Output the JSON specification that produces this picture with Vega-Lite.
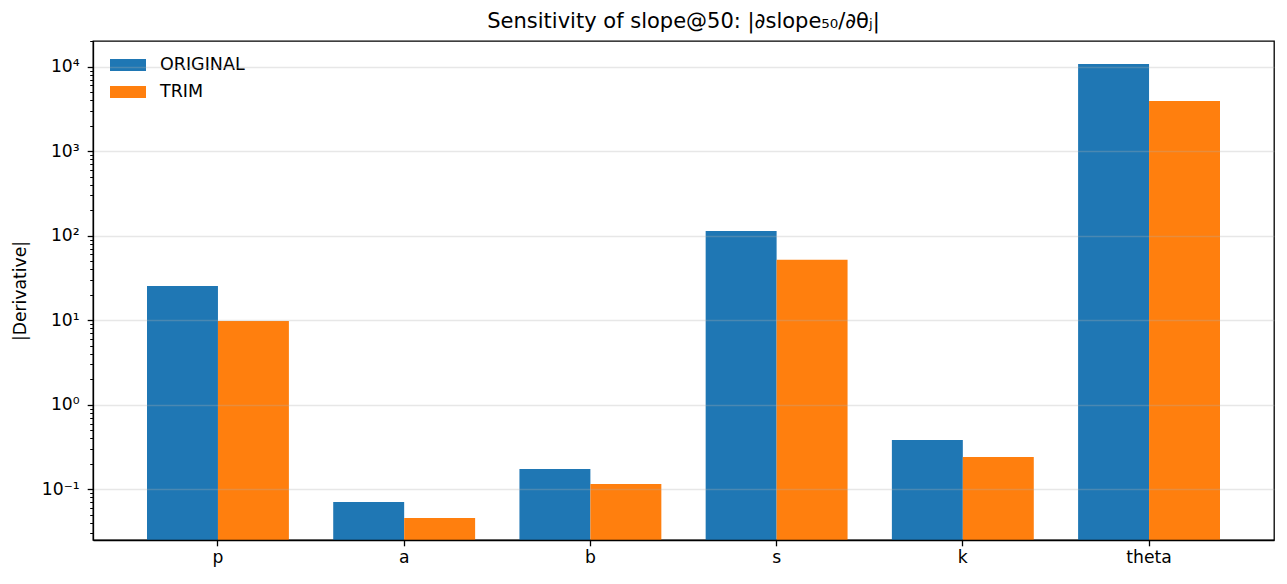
{
  "$schema": "https://vega.github.io/schema/vega-lite/v6.json",
  "autosize": "none",
  "width": 1181,
  "height": 499,
  "padding": {"left": 93, "top": 41, "right": 13, "bottom": 44},
  "background": "white",
  "config": {
    "font": "DejaVu Sans",
    "view": {"stroke": "black", "strokeWidth": 1.3},
    "axis": {
      "labelFont": "DejaVu Sans",
      "titleFont": "DejaVu Sans",
      "labelFontSize": 17.2,
      "titleFontSize": 17.2,
      "titleFontWeight": "normal",
      "labelColor": "black",
      "titleColor": "black",
      "tickColor": "black",
      "domainColor": "black",
      "domainWidth": 1.3
    }
  },
  "title": {
    "text": "Sensitivity of slope@50: |∂slope₅₀/∂θⱼ|",
    "font": "DejaVu Sans",
    "fontSize": 21,
    "fontWeight": "normal",
    "color": "black",
    "offset": 9
  },
  "data": {
    "values": [
      {"param": "p", "model": "ORIGINAL", "value": 25.5},
      {"param": "p", "model": "TRIM", "value": 9.8},
      {"param": "a", "model": "ORIGINAL", "value": 0.0708},
      {"param": "a", "model": "TRIM", "value": 0.0457},
      {"param": "b", "model": "ORIGINAL", "value": 0.174},
      {"param": "b", "model": "TRIM", "value": 0.1156},
      {"param": "s", "model": "ORIGINAL", "value": 114},
      {"param": "s", "model": "TRIM", "value": 51.8},
      {"param": "k", "model": "ORIGINAL", "value": 0.383},
      {"param": "k", "model": "TRIM", "value": 0.241},
      {"param": "theta", "model": "ORIGINAL", "value": 10760},
      {"param": "theta", "model": "TRIM", "value": 3925}
    ]
  },
  "mark": {"type": "bar", "clip": true},
  "encoding": {
    "x": {
      "field": "param",
      "type": "nominal",
      "sort": ["p", "a", "b", "s", "k", "theta"],
      "scale": {"paddingInner": 0.238, "paddingOuter": 0.29},
      "axis": {
        "title": null,
        "labelAngle": 0,
        "tickSize": 5.8,
        "tickWidth": 1.3,
        "labelPadding": 3,
        "zindex": 1
      }
    },
    "xOffset": {
      "field": "model",
      "type": "nominal",
      "sort": ["ORIGINAL", "TRIM"]
    },
    "y": {
      "field": "value",
      "type": "quantitative",
      "scale": {"type": "log", "domain": [0.0251, 20140], "nice": false},
      "axis": {
        "title": "|Derivative|",
        "titlePadding": 12,
        "values": [0.03, 0.04, 0.05, 0.06, 0.07, 0.08, 0.09, 0.1, 0.2, 0.3, 0.4, 0.5, 0.6, 0.7, 0.8, 0.9, 1, 2, 3, 4, 5, 6, 7, 8, 9, 10, 20, 30, 40, 50, 60, 70, 80, 90, 100, 200, 300, 400, 500, 600, 700, 800, 900, 1000, 2000, 3000, 4000, 5000, 6000, 7000, 8000, 9000, 10000, 20000],
        "labelExpr": "datum.value == 0.1 ? '10⁻¹' : datum.value == 1 ? '10⁰' : datum.value == 10 ? '10¹' : datum.value == 100 ? '10²' : datum.value == 1000 ? '10³' : datum.value == 10000 ? '10⁴' : ''",
        "tickSize": {"condition": {"test": "indexof([0.1, 1, 10, 100, 1000, 10000], datum.value) >= 0", "value": 5.8}, "value": 3.3},
        "tickWidth": {"condition": {"test": "indexof([0.1, 1, 10, 100, 1000, 10000], datum.value) >= 0", "value": 1.3}, "value": 1},
        "grid": true,
        "gridColor": "#b0b0b0",
        "gridWidth": 1.3,
        "gridOpacity": {"condition": {"test": "indexof([0.1, 1, 10, 100, 1000, 10000], datum.value) >= 0", "value": 0.3}, "value": 0},
        "labelPadding": 8,
        "labelBaseline": "middle",
        "zindex": 1
      }
    },
    "y2": {"datum": 0.0251},
    "color": {
      "field": "model",
      "type": "nominal",
      "sort": ["ORIGINAL", "TRIM"],
      "scale": {"domain": ["ORIGINAL", "TRIM"], "range": ["#1f77b4", "#ff7f0e"]},
      "legend": {
        "title": null,
        "orient": "none",
        "legendX": 17,
        "legendY": 6,
        "padding": 0,
        "symbolType": "M-1,-0.333L1,-0.333L1,0.333L-1,0.333Z",
        "symbolSize": 1296,
        "symbolStrokeWidth": 0,
        "symbolOpacity": 1,
        "labelFont": "DejaVu Sans",
        "labelFontSize": 17.5,
        "labelColor": "black",
        "labelOffset": 14,
        "rowPadding": -8
      }
    }
  }
}
